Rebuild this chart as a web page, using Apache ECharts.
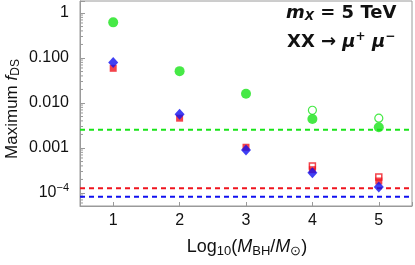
<!DOCTYPE html>
<html>
<head>
<meta charset="utf-8">
<script src="https://cdn.jsdelivr.net/npm/echarts@6/dist/echarts.min.js"></script>
<style>
html,body{margin:0;padding:0;background:#fff;}
#chart{width:415px;height:265px;}
</style>
</head>
<body>
<div id="chart"></div>
<script>
// ---- data ----
var xCats = [1, 2, 3, 4, 5];
var greenFilled = [0.62, 0.051, 0.016, 0.0044, 0.0029];
var greenOpen = [null, null, null, 0.0069, 0.0046];
var redFilled = [0.059, 0.0046, 0.00104, 0.00033, 0.000185];
var redOpen = [null, null, null, 0.00040, 0.000227];
var blueFilled = [0.079, 0.0056, 0.00090, 0.000283, 0.000136];
var greenLimit = 0.00255;
var redLimit = 0.000127;
var blueLimit = 0.000082;
var yTickLabels = {"0": "1", "-1": "0.100", "-2": "0.010", "-3": "0.001", "-4": "10{sup|−4}"};

var X_MIN = 0.5, X_MAX = 5.5;
var Y_MIN = Math.pow(10, -4.289), Y_MAX = Math.pow(10, 0.2667);

function pairs(arr) {
  var out = [];
  for (var i = 0; i < xCats.length; i++) if (arr[i] != null) out.push([xCats[i], arr[i]]);
  return out;
}
function hline(v) { return [[X_MIN, v], [X_MAX, v]]; }

var minorVals = [];
for (var e = -5; e <= 0; e++) {
  for (var m = 2; m <= 9; m++) {
    var v = m * Math.pow(10, e);
    if (v > Y_MIN && v < Y_MAX) minorVals.push([X_MIN, v]);
  }
}

var GREEN = '#18e418', RED = '#f0141e', BLUE = '#1010f0', AX = '#9a9a9a';
var FONT = 'Liberation Sans, Arial, sans-serif';
var TFONT = 'DejaVu Sans, sans-serif';

var chart = echarts.init(document.getElementById('chart'), null, {renderer: 'canvas'});
chart.setOption({
  animation: false,
  grid: {left: 80, right: 1, top: 1, bottom: 59, show: true, borderColor: AX, borderWidth: 1},
  xAxis: {
    type: 'value', min: X_MIN, max: X_MAX,
    axisLine: {lineStyle: {color: AX}},
    axisTick: {inside: true, length: 4, lineStyle: {color: AX}},
    splitLine: {show: false},
    axisLabel: {
      color: '#111', fontFamily: FONT, fontSize: 16, margin: 7,
      formatter: function (v) { return Math.abs(v - Math.round(v)) < 1e-6 ? String(Math.round(v)) : ''; }
    }
  },
  yAxis: {
    type: 'log', logBase: 10, min: Y_MIN, max: Y_MAX,
    axisLine: {show: true, lineStyle: {color: AX}},
    axisTick: {inside: true, length: 5, lineStyle: {color: AX}},
    splitLine: {show: false},
    axisLabel: {
      color: '#111', fontFamily: FONT, fontSize: 16, margin: 11,
      formatter: function (v) {
        var e = Math.log10(v);
        var r = Math.round(e);
        if (Math.abs(e - r) > 1e-6) return '';
        return yTickLabels[String(r)] || '';
      },
      rich: {sup: {fontSize: 11, fontFamily: FONT, color: '#111', padding: [0, 0, 10, 0]}}
    }
  },
  graphic: [
    {
      type: 'text', left: 286, top: 4,
      style: {
        text: '{mi|m}{sub|X}{b| = 5 TeV}',
        rich: {
          mi: {fontSize: 18, fontWeight: 'bold', fontStyle: 'italic', fontFamily: TFONT, fill: '#111'},
          sub: {fontSize: 12, fontWeight: 'bold', fontStyle: 'italic', fontFamily: TFONT, fill: '#111', padding: [8, 0, 0, 0]},
          b: {fontSize: 18, fontWeight: 'bold', fontFamily: TFONT, fill: '#111'}
        }
      }
    },
    {
      type: 'text', left: 287, top: 31,
      style: {
        text: '{b|XX → }{mi|μ}{sup|+}{b| }{mi|μ}{sup|−}',
        rich: {
          mi: {fontSize: 18, fontWeight: 'bold', fontStyle: 'italic', fontFamily: TFONT, fill: '#111'},
          sup: {fontSize: 12, fontWeight: 'bold', fontFamily: TFONT, fill: '#111', padding: [0, 0, 10, 0]},
          b: {fontSize: 18, fontWeight: 'bold', fontFamily: TFONT, fill: '#111'}
        }
      }
    },
    {
      type: 'text', x: 12, y: 109, rotation: Math.PI / 2,
      style: {
        text: '{n|Maximum }{fi|f}{sub|DS}',
        align: 'center', verticalAlign: 'middle',
        rich: {
          n: {fontSize: 17, fontFamily: FONT, fill: '#111'},
          fi: {fontSize: 17, fontStyle: 'italic', fontFamily: FONT, fill: '#111'},
          sub: {fontSize: 12, fontFamily: FONT, fill: '#111', padding: [8, 0, 0, 0]}
        }
      }
    },
    {
      type: 'text', x: 247, y: 247,
      style: {
        text: '{n|Log}{sub|10}{n|(}{i|M}{sub|BH}{n|/}{i|M}{sub|⊙}{n|)}',
        align: 'center', verticalAlign: 'middle',
        rich: {
          n: {fontSize: 18, fontFamily: FONT, fill: '#111'},
          i: {fontSize: 18, fontStyle: 'italic', fontFamily: FONT, fill: '#111'},
          sub: {fontSize: 13, fontFamily: FONT, fill: '#111', padding: [8, 0, 0, 0]}
        }
      }
    }
  ],
  series: [
    {
      type: 'custom', silent: true, z: 1, clip: false,
      renderItem: function (params, api) {
        var p = api.coord([api.value(0), api.value(1)]);
        return {type: 'line', shape: {x1: p[0], y1: p[1], x2: p[0] + 3, y2: p[1]}, style: {stroke: AX, lineWidth: 1}};
      },
      data: minorVals
    },
    {type: 'line', data: hline(greenLimit), symbol: 'none', lineStyle: {color: GREEN, width: 2, type: [5, 4]}, z: 2},
    {type: 'line', data: hline(redLimit), symbol: 'none', lineStyle: {color: RED, width: 2, type: [5, 4]}, z: 2},
    {type: 'line', data: hline(blueLimit), symbol: 'none', lineStyle: {color: BLUE, width: 2, type: [5, 4]}, z: 2},
    {type: 'scatter', data: pairs(greenOpen), symbol: 'circle', symbolSize: 8,
      itemStyle: {color: '#fff', borderColor: GREEN, borderWidth: 1.2}, z: 3},
    {type: 'scatter', data: pairs(greenFilled), symbol: 'circle', symbolSize: 10,
      itemStyle: {color: GREEN}, z: 4},
    {type: 'scatter', data: pairs(redOpen), symbol: 'rect', symbolSize: 6,
      itemStyle: {color: '#fff', borderColor: RED, borderWidth: 1.5}, z: 5},
    {type: 'scatter', data: pairs(redFilled), symbol: 'rect', symbolSize: 7,
      itemStyle: {color: RED}, z: 6},
    {type: 'scatter', data: pairs(blueFilled), symbol: 'diamond', symbolSize: [10, 11],
      itemStyle: {color: BLUE}, z: 7}
  ]
});
</script>
</body>
</html>
